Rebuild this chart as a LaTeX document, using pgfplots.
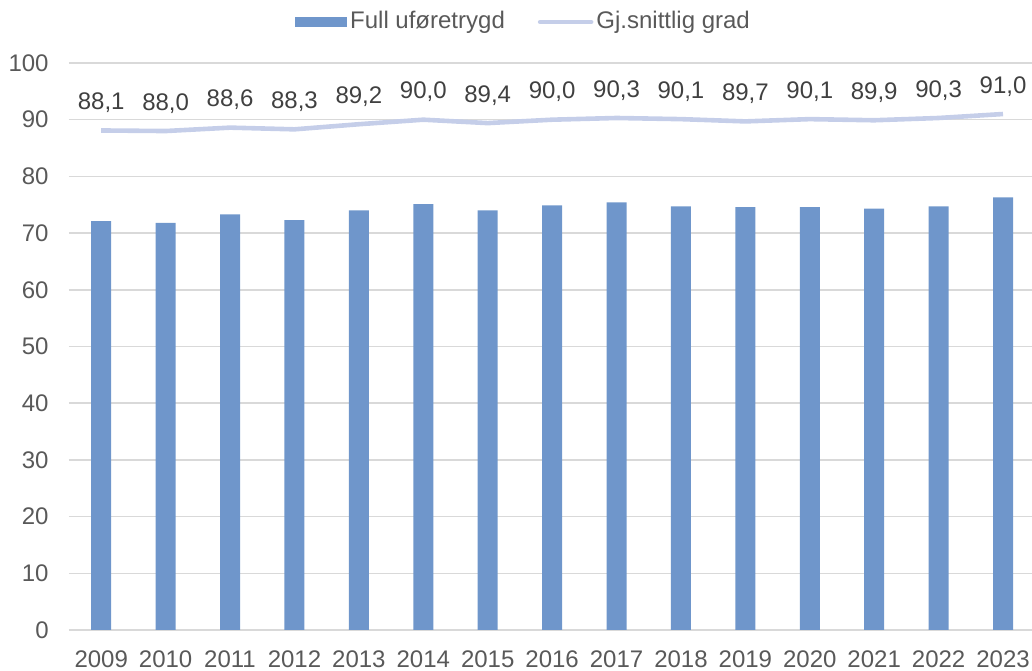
\documentclass[border=0pt]{standalone}
\usepackage{pgfplots}
\pgfplotsset{compat=1.18}
\usepackage{fontspec}
\setmainfont{Liberation Sans}
\definecolor{cBar}{HTML}{6F96CB}
\definecolor{cLine}{HTML}{C5CEE9}
\definecolor{cGrid}{HTML}{D9D9D9}
\definecolor{cTick}{HTML}{595959}
\definecolor{cLab}{HTML}{404040}

\begin{document}
\fontsize{12bp}{14bp}\selectfont
\begin{tikzpicture}
\begin{axis}[
  name = ax,
  scale only axis,
  width  = 481.5bp,
  height = 283.5bp,
  xmin = -0.5, xmax = 14.45,
  ymin = 0, ymax = 100,
  ytick = {0,10,...,100},
  xtick = {0,...,14},
  xticklabels = {2009,2010,2011,2012,2013,2014,2015,2016,2017,2018,2019,2020,2021,2022,2023},
  axis line style = {draw=none},
  major tick length = 0pt,
  ymajorgrids,
  grid style = {cGrid, line width=0.75bp},
  tick label style = {font=\fontsize{12bp}{14bp}\selectfont, text=cTick},
  yticklabel style = {xshift=-6bp},
  xticklabel style = {yshift=-6bp},
  /pgf/number format/assume math mode=true,
  legend columns = 2,
  legend style = {
    at = {(0.4725,1)}, anchor = center, yshift = 20.5bp,
    draw = none, fill = none,
    font = \fontsize{12bp}{14bp}\selectfont, text = cTick,
    /tikz/every even column/.append style = {column sep=15bp},
    nodes = {inner xsep=1.5bp},
  },
  legend cell align = left,
]

\addplot[ybar, bar width=10bp, fill=cBar, draw=none,
  legend image code/.code={\fill[cBar] (0bp,-2.6bp) rectangle (26bp,2.6bp);}]
coordinates {
  (0,72.1)(1,71.8)(2,73.3)(3,72.3)(4,74.0)(5,75.1)(6,74.0)(7,74.9)
  (8,75.4)(9,74.7)(10,74.6)(11,74.6)(12,74.3)(13,74.7)(14,76.3)
};
\addlegendentry{Full uføretrygd}

\addplot[sharp plot, cLine, line width=2.3bp, mark=none,
  nodes near coords,
  every node near coord/.append style = {
    font=\fontsize{12bp}{14bp}\selectfont, text=cLab, yshift=3.8bp,
    /pgf/number format/.cd, fixed, fixed zerofill, precision=1, use comma, assume math mode=true},
  legend image code/.code={\draw[cLine, line width=2.3bp, line cap=round] (1.5bp,0) -- (27bp,0);}]
coordinates {
  (0,88.1)(1,88.0)(2,88.6)(3,88.3)(4,89.2)(5,90.0)(6,89.4)(7,90.0)
  (8,90.3)(9,90.1)(10,89.7)(11,90.1)(12,89.9)(13,90.3)(14,91.0)
};
\addlegendentry{Gj.snittlig grad}

\end{axis}
\pgfresetboundingbox
\path[use as bounding box] ([xshift=-34.5bp, yshift=-20.5bp]ax.south west) rectangle ([yshift=31.5bp]ax.north east);
\end{tikzpicture}
\end{document}
